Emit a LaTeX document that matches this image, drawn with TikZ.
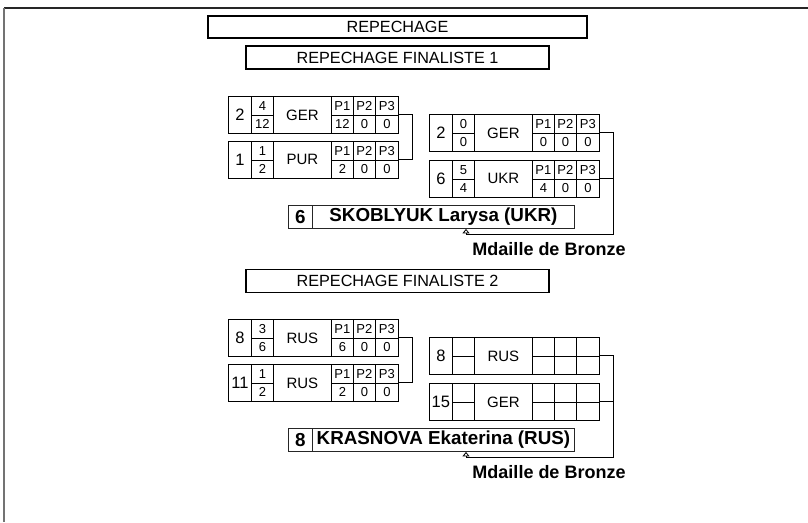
\documentclass[tikz,border=0pt]{standalone}
\usepackage{fontspec}
\setmainfont{Liberation Sans}
\usetikzlibrary{arrows.meta,calc}
\tikzset{
  box/.style={draw=none, inner sep=0pt, anchor=north west},
  cell/.style={draw, line width=0.8pt, inner sep=0pt, anchor=north west, font=\fontsize{15}{15}\selectfont},
  seedtxt/.style={font=\fontsize{16.5}{16.5}\selectfont},
  small/.style={font=\fontsize{13}{13}\selectfont},
  pcell/.style={cell, font=\fontsize{13}{13}\selectfont, minimum height=18.5pt},
  head/.style={draw, line width=1.8pt, inner sep=0pt, font=\fontsize{16.2}{16.2}\selectfont},
  namecell/.style={draw=black!85, line width=0.9pt, inner sep=0pt, anchor=north west, minimum height=23pt, font=\bfseries\fontsize{18.8}{18.8}\selectfont},
  bronze/.style={inner sep=0pt, font=\bfseries\fontsize{18}{18}\selectfont},
  conn/.style={draw, line width=0.8pt},
  arr/.style={conn, -{Triangle[open, length=4.5pt, width=7pt, line width=0.8pt]}},
}
\newcommand{\entrybox}[7]{%
  \node[box, minimum width=170pt, minimum height=37pt] (#1) at (#2,#3) {};
  \node[cell, seedtxt, minimum width=23pt, minimum height=37pt] (#1-sd) at (#1.north west) {#4};
  \node[cell, small, minimum width=22pt, minimum height=18.5pt] (#1-sa) at ([xshift=23pt]#1.north west) {#5};
  \node[cell, small, minimum width=22pt, minimum height=18.5pt] (#1-sb) at ([xshift=23pt,yshift=-18.5pt]#1.north west) {#6};
  \node[cell, minimum width=58pt, minimum height=37pt] (#1-ct) at ([xshift=45pt]#1.north west) {#7};
}
\newcommand{\pcells}[7]{%
  \node[pcell, minimum width=22pt] (#1-p1a) at ([xshift=103pt]#1.north west) {#2};
  \node[pcell, minimum width=22pt] (#1-p2a) at ([xshift=125pt]#1.north west) {#3};
  \node[pcell, minimum width=23pt] (#1-p3a) at ([xshift=147pt]#1.north west) {#4};
  \node[pcell, minimum width=22pt] (#1-p1b) at ([xshift=103pt,yshift=-18.5pt]#1.north west) {#5};
  \node[pcell, minimum width=22pt] (#1-p2b) at ([xshift=125pt,yshift=-18.5pt]#1.north west) {#6};
  \node[pcell, minimum width=23pt] (#1-p3b) at ([xshift=147pt,yshift=-18.5pt]#1.north west) {#7};
}
\begin{document}
\begin{tikzpicture}[x=1pt, y=-1pt]
\useasboundingbox (0,0) rectangle (808,522);
\fill[white] (0,0) rectangle (808,522);
% frame
\draw[line width=1.3pt, black!85] (4,8) -- (808,8);
\draw[line width=1.3pt, black!55] (4,8) -- (4,522);

% headings
\node[head, minimum width=379pt, minimum height=22pt] (rep) at (397.5,27) {REPECHAGE};
\node[head, minimum width=303pt, minimum height=23pt] (f1) at (397.5,57.5) {REPECHAGE FINALISTE 1};
\node[head, minimum width=303pt, minimum height=23pt] (f2) at (397.5,281) {REPECHAGE FINALISTE 2};

% ---------- section 1 ----------
\entrybox{s1a}{228}{96}{2}{4}{12}{GER}
\pcells{s1a}{P1}{P2}{P3}{12}{0}{0}
\entrybox{s1b}{228}{141}{1}{1}{2}{PUR}
\pcells{s1b}{P1}{P2}{P3}{2}{0}{0}
\entrybox{s2a}{429}{114}{2}{0}{0}{GER}
\pcells{s2a}{P1}{P2}{P3}{0}{0}{0}
\entrybox{s2b}{429}{160}{6}{5}{4}{UKR}
\pcells{s2b}{P1}{P2}{P3}{4}{0}{0}

\node[namecell, minimum width=286pt] (n1) at (288,205) {};
\node[namecell, minimum width=24pt] (n1-sd) at (n1.north west) {6};
\node[namecell, minimum width=262pt] (n1-nm) at ([xshift=24pt]n1.north west) {SKOBLYUK Larysa (UKR)};
\node[bronze] (b1) at (549,249.5) {Mdaille de Bronze};

\coordinate (j1) at (412,0);
\draw[conn] (s1a.east) -| (j1 |- s1b.east) -- (s1b.east);
\draw[conn] ($(s1a.east)!0.5!(s1b.east)$ -| j1) -- ($(s1a.east)!0.5!(s1b.east)$ -| s2a.west);
\coordinate (k1) at (613,234);
\coordinate (a1) at (466,234);
\draw[conn] (s2b.east) -- (s2b.east -| k1);
\draw[arr] (s2a.east) -| (k1) -- (a1) -- (a1 |- n1.south);

% ---------- section 2 ----------
\entrybox{s3a}{228}{319}{8}{3}{6}{RUS}
\pcells{s3a}{P1}{P2}{P3}{6}{0}{0}
\entrybox{s3b}{228}{364}{11}{1}{2}{RUS}
\pcells{s3b}{P1}{P2}{P3}{2}{0}{0}
\entrybox{s4a}{429}{337}{8}{}{}{RUS}
\pcells{s4a}{}{}{}{}{}{}
\entrybox{s4b}{429}{383}{15}{}{}{GER}
\pcells{s4b}{}{}{}{}{}{}

\node[namecell, minimum width=286pt] (n2) at (288,428) {};
\node[namecell, minimum width=24pt] (n2-sd) at (n2.north west) {8};
\node[namecell, minimum width=262pt] (n2-nm) at ([xshift=24pt]n2.north west) {KRASNOVA Ekaterina (RUS)};
\node[bronze] (b2) at (549,472.5) {Mdaille de Bronze};

\coordinate (j2) at (412,0);
\draw[conn] (s3a.east) -| (j2 |- s3b.east) -- (s3b.east);
\draw[conn] ($(s3a.east)!0.5!(s3b.east)$ -| j2) -- ($(s3a.east)!0.5!(s3b.east)$ -| s4a.west);
\coordinate (k2) at (613,457);
\coordinate (a2) at (466,457);
\draw[conn] (s4b.east) -- (s4b.east -| k2);
\draw[arr] (s4a.east) -| (k2) -- (a2) -- (a2 |- n2.south);
\end{tikzpicture}
\end{document}
